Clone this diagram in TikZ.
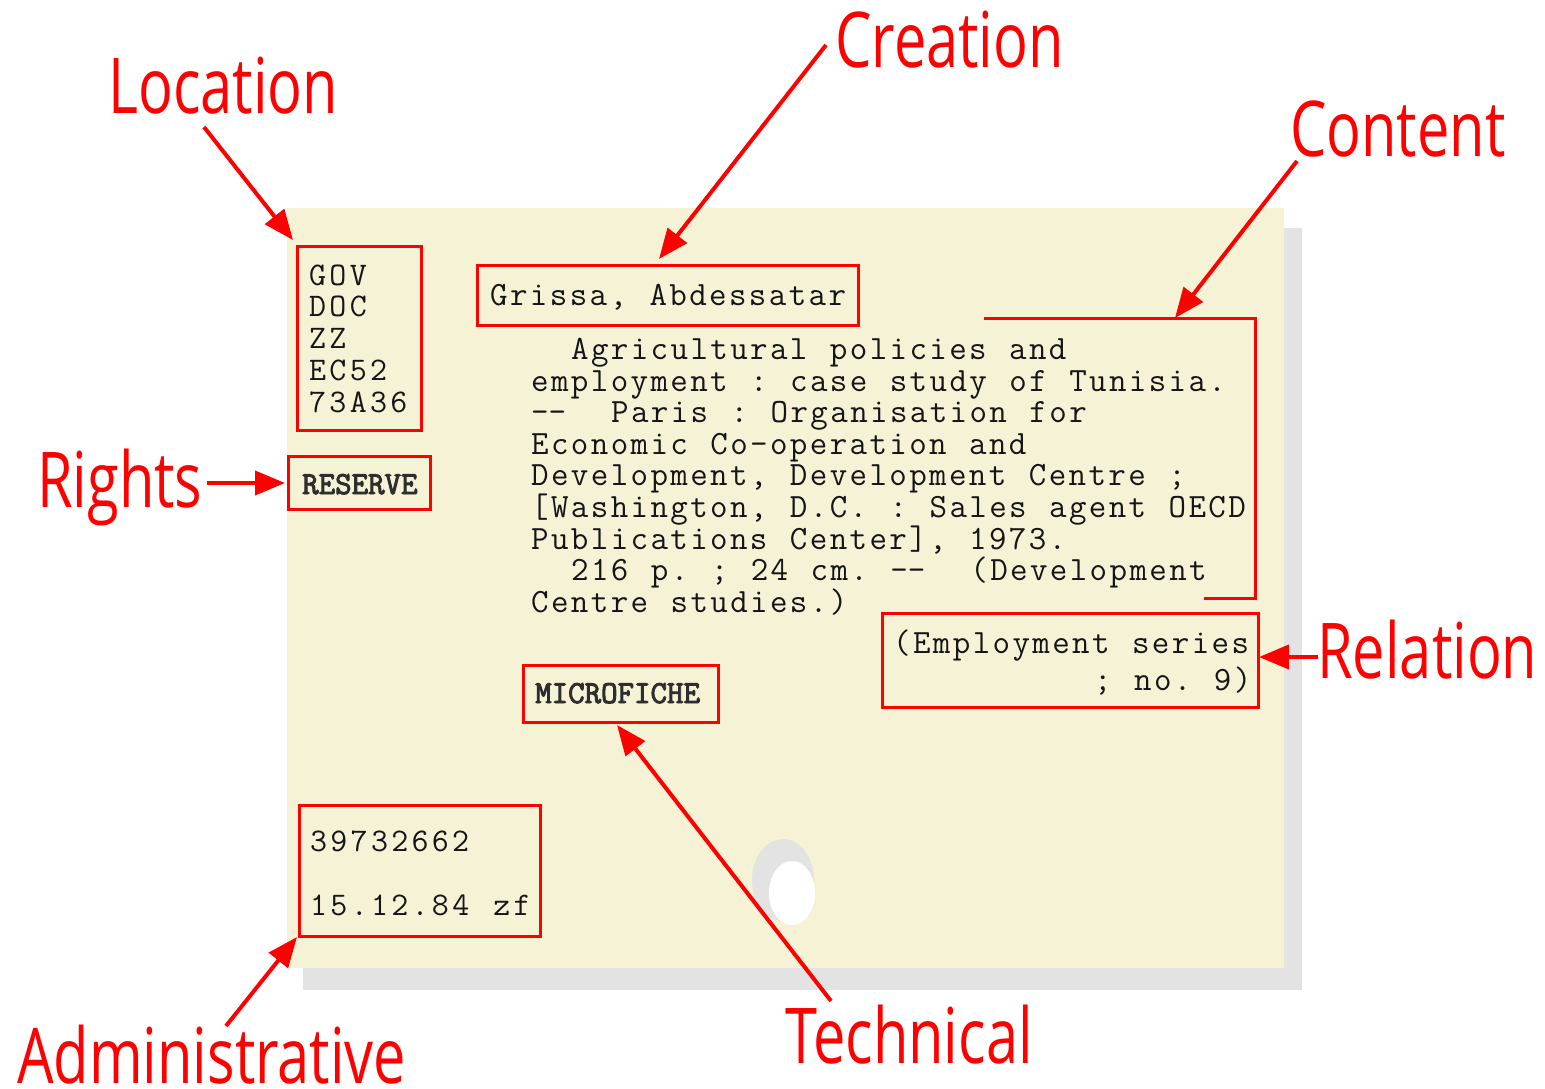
\documentclass[tikz,border=0pt]{standalone}
\usepackage{fontspec}
\usetikzlibrary{arrows.meta}
\newfontfamily\labfont[FakeStretch=0.75]{Open Sans}
\newfontfamily\twfont[LetterSpace=7,WordSpace=1.13]{Latin Modern Mono}
\newfontfamily\twsp[LetterSpace=10,WordSpace=1.19]{Latin Modern Mono}
\newfontfamily\twbold[FakeBold=3]{Latin Modern Mono}
\definecolor{cardbg}{HTML}{F5F2D6}
\definecolor{shadowc}{HTML}{E3E3E3}
\definecolor{lab}{HTML}{FF0000}
\definecolor{ink}{HTML}{151515}
\definecolor{inkb}{HTML}{2E2E2E}
\newcommand\dd{\hbox{-}\hbox{-}}
\begin{document}
\begin{tikzpicture}[x=1pt,y=-1pt,
  lbl/.style={font=\labfont\fontsize{77}{77}\selectfont, text=lab, inner sep=0pt, anchor=base west, text depth=0pt},
  tw/.style={font=\twfont\fontsize{34}{34}\selectfont\frenchspacing, text=ink, inner sep=0pt, anchor=base west},
  tws/.style={font=\twsp\fontsize{33}{33}\selectfont\frenchspacing, text=ink, inner sep=0pt, anchor=base west},
  twb/.style={font=\twbold\fontsize{32}{32}\selectfont\frenchspacing, text=inkb, inner sep=0pt, anchor=base west},
  redbox/.style={draw=lab, line width=3pt, inner sep=0pt},
  arr/.style={draw=lab, line width=4pt, -{Triangle[length=30pt,width=24pt]}},
  bracket/.style={draw=lab, line width=3pt},
]
\useasboundingbox (0,0) rectangle (1545,1089);
\fill[white] (0,0) rectangle (1545,1089);
% card
\fill[shadowc] (303,228) rectangle (1302,990);
\fill[cardbg] (287,208) rectangle (1284,968);
\fill[shadowc] (783,880) ellipse [x radius=31pt, y radius=41pt];
\fill[white] (792,893) ellipse [x radius=23pt, y radius=32pt];

% boxes
\node[redbox, minimum width=124pt, minimum height=184pt] (locbox) at (359,338) {};
\node[redbox, minimum width=142pt, minimum height=53pt] (resbox) at (359,482.5) {};
\node[redbox, minimum width=381pt, minimum height=60pt] (crebox) at (667.5,295) {};
\node[redbox, minimum width=195pt, minimum height=57pt] (micbox) at (620.5,693.5) {};
\node[redbox, minimum width=376pt, minimum height=94pt] (relbox) at (1070,660) {};
\node[redbox, minimum width=241pt, minimum height=131pt] (admbox) at (419.5,870.5) {};
\coordinate (cb1) at (984,318);
\coordinate (cb2) at (1255,318);
\coordinate (cb3) at (1255,598);
\coordinate (cb4) at (1204,598);
\draw[bracket] (cb1) -- (cb2) -- (cb3) -- (cb4);

% card texts
\node[tws] (loctext) at (309,285) {\vtop{\baselineskip=31.8pt\lineskiplimit=-100pt
  \hbox{GOV}\hbox{DOC}\hbox{ZZ}\hbox{EC52}\hbox{73A36}}};
\node[twb] (restext) at (302,494) {RESERVE};
\node[tw] (cretext) at (490,305) {Grissa, Abdessatar};
\node[tw] (bodytext) at (531,359.5) {\vtop{\baselineskip=31.6pt\lineskiplimit=-100pt
  \hbox{\hskip40pt Agricultural policies and}
  \hbox{employment : case study of Tunisia.}
  \hbox{\dd\ \ Paris : Organisation for}
  \hbox{Economic Co-operation and}
  \hbox{Development, Development Centre ;}
  \hbox{[Washington, D.C. : Sales agent OECD}
  \hbox{Publications Center], 1973.}
  \hbox{\hskip40pt 216 p. ; 24 cm. \dd\ \ (Development}
  \hbox{Centre studies.)}}};
\node[tw] (reltext1) at (893,653) {(Employment series};
\node[tw] (reltext2) at (1094,690) {; no. 9)};
\node[twb] (mictext) at (535,703) {MICROFICHE};
\node[tws] (admtext) at (310,851) {\vtop{\baselineskip=64pt\lineskiplimit=-100pt
  \hbox{39732662}
  \hbox{15.12.84 zf}}};

% labels
\node[lbl] (loclab) at (108,114) {Location};
\node[lbl] (crelab) at (835,68) {Creation};
\node[lbl] (conlab) at (1290,157) {Content};
\node[lbl] (riglab) at (37,507) {Rights};
\node[lbl] (rellab) at (1317,678) {Relation};
\node[lbl] (teclab) at (785,1063) {Technical};
\node[lbl] (admlab) at (17,1083) {Administrative};

% arrows
\coordinate (locS) at (204,127);  \coordinate (locT) at (293,240);
\coordinate (creS) at (826,45);   \coordinate (creT) at (659,259);
\coordinate (conS) at (1297,161); \coordinate (conT) at (1175,318);
\coordinate (rigS) at (207,483);  \coordinate (rigT) at (285,483);
\coordinate (relS) at (1318,657); \coordinate (relT) at (1259,657);
\coordinate (tecS) at (831,1001); \coordinate (tecT) at (617,725);
\coordinate (admS) at (226,1026); \coordinate (admT) at (297,937);
\draw[arr] (locS) -- (locT);
\draw[arr] (creS) -- (creT);
\draw[arr] (conS) -- (conT);
\draw[arr] (rigS) -- (rigT);
\draw[arr] (relS) -- (relT);
\draw[arr] (tecS) -- (tecT);
\draw[arr] (admS) -- (admT);
\end{tikzpicture}
\end{document}
